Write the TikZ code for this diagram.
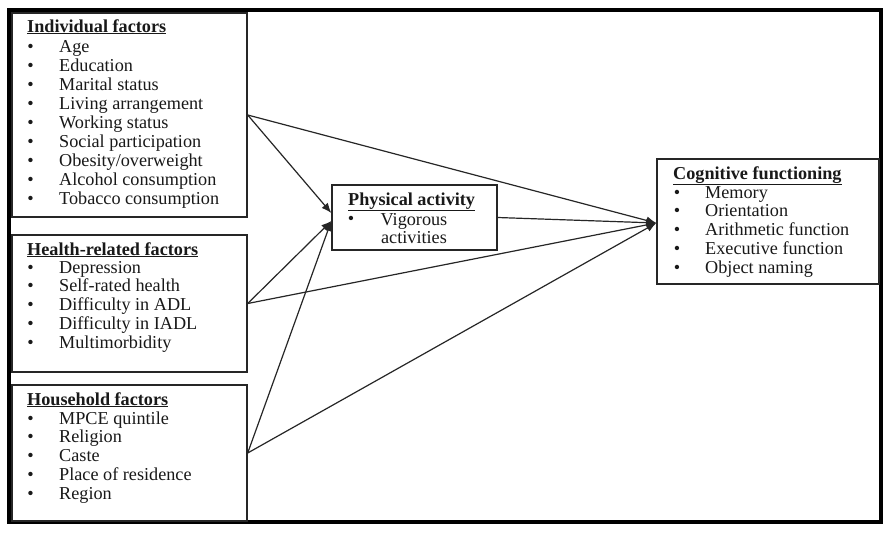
\documentclass[tikz,border=0pt]{standalone}
\usepackage{fontspec}
\setmainfont{Liberation Serif}
\usetikzlibrary{arrows.meta}
\begin{document}
\begin{tikzpicture}[x=1pt,y=-1pt,
  box/.style={draw=black!85,line width=1.4pt,inner sep=0pt,rectangle},
  txt/.style={anchor=base west,inner sep=0pt,font=\fontsize{18.2}{19}\selectfont,text=black!90},
  bul/.style={anchor=base,inner sep=0pt,font=\fontsize{18.2}{19}\selectfont,text=black!90},
  arr/.style={line width=1.2pt,draw=black!85,-{Latex[length=10pt,width=8pt]}}]
\useasboundingbox (0,0) rectangle (895,533);
\fill[white] (0,0) rectangle (895,533);
% outer frame
\node[draw=black,line width=4.5pt,minimum width=872pt,minimum height=512pt,inner sep=0pt] (frame) at (445,266) {};
% boxes
\node[box,minimum width=235pt,minimum height=204pt] (ind) at (129.5,115) {};
\node[box,minimum width=235pt,minimum height=137pt] (hea) at (129.5,303.5) {};
\node[box,minimum width=235pt,minimum height=136pt] (hou) at (129.5,453) {};
\node[box,minimum width=165pt,minimum height=65pt] (phys) at (414.5,217.5) {};
\node[box,minimum width=222pt,minimum height=125pt] (cog) at (768,221.5) {};
% Individual factors
\node[txt] (t1) at (27,32) {\underline{\textbf{Individual factors}}};
\foreach \i/\s in {0/Age,1/Education,2/Marital status,3/Living arrangement,4/Working status,5/Social participation,6/Obesity\slash overweight,7/Alcohol consumption,8/Tobacco consumption}{
  \node[bul] (b1\i) at (30.5,52+19*\i) {\textbullet};
  \node[txt] (i1\i) at (59,52+19*\i) {\s};
}
% Health-related factors
\node[txt] (t2) at (27,255) {\underline{\textbf{Health-related factors}}};
\foreach \i/\s in {0/Depression,1/Self-rated health,2/Difficulty in ADL,3/Difficulty in IADL,4/Multimorbidity}{
  \node[bul] (b2\i) at (30.5,273+18.8*\i) {\textbullet};
  \node[txt] (i2\i) at (59,273+18.8*\i) {\s};
}
% Household factors
\node[txt] (t3) at (27,405) {\underline{\textbf{Household factors}}};
\foreach \i/\s in {0/MPCE quintile,1/Religion,2/Caste,3/Place of residence,4/Region}{
  \node[bul] (b3\i) at (30.5,424+18.8*\i) {\textbullet};
  \node[txt] (i3\i) at (59,424+18.8*\i) {\s};
}
% Physical activity
\node[txt] (t4) at (348,205) {\underline{\textbf{Physical activity}}};
\node[bul] (b4) at (351,224) {\textbullet};
\node[bul] (i41) at (414,225) {Vigorous};
\node[bul] (i42) at (414,243) {activities};
% Cognitive functioning
\node[txt] (t5) at (673,179) {\underline{\textbf{Cognitive functioning}}};
\foreach \i/\s in {0/Memory,1/Orientation,2/Arithmetic function,3/Executive function,4/Object naming}{
  \node[bul] (b5\i) at (677,198+18.8*\i) {\textbullet};
  \node[txt] (i5\i) at (705,198+18.8*\i) {\s};
}
% connectors
\draw[arr] (ind.east) -- ([yshift=4.5pt]phys.west);
\draw[arr] (hea.east) -- ([yshift=-3.5pt]phys.west);
\draw[arr] (hou.east) -- ([yshift=-3.5pt]phys.west);
\draw[arr] (ind.east) -- ([yshift=-1.5pt]cog.west);
\draw[arr] (hea.east) -- ([yshift=-1.5pt]cog.west);
\draw[arr] (hou.east) -- ([yshift=-1.5pt]cog.west);
\draw[arr] (phys.east) -- ([yshift=-1.5pt]cog.west);
\end{tikzpicture}
\end{document}
